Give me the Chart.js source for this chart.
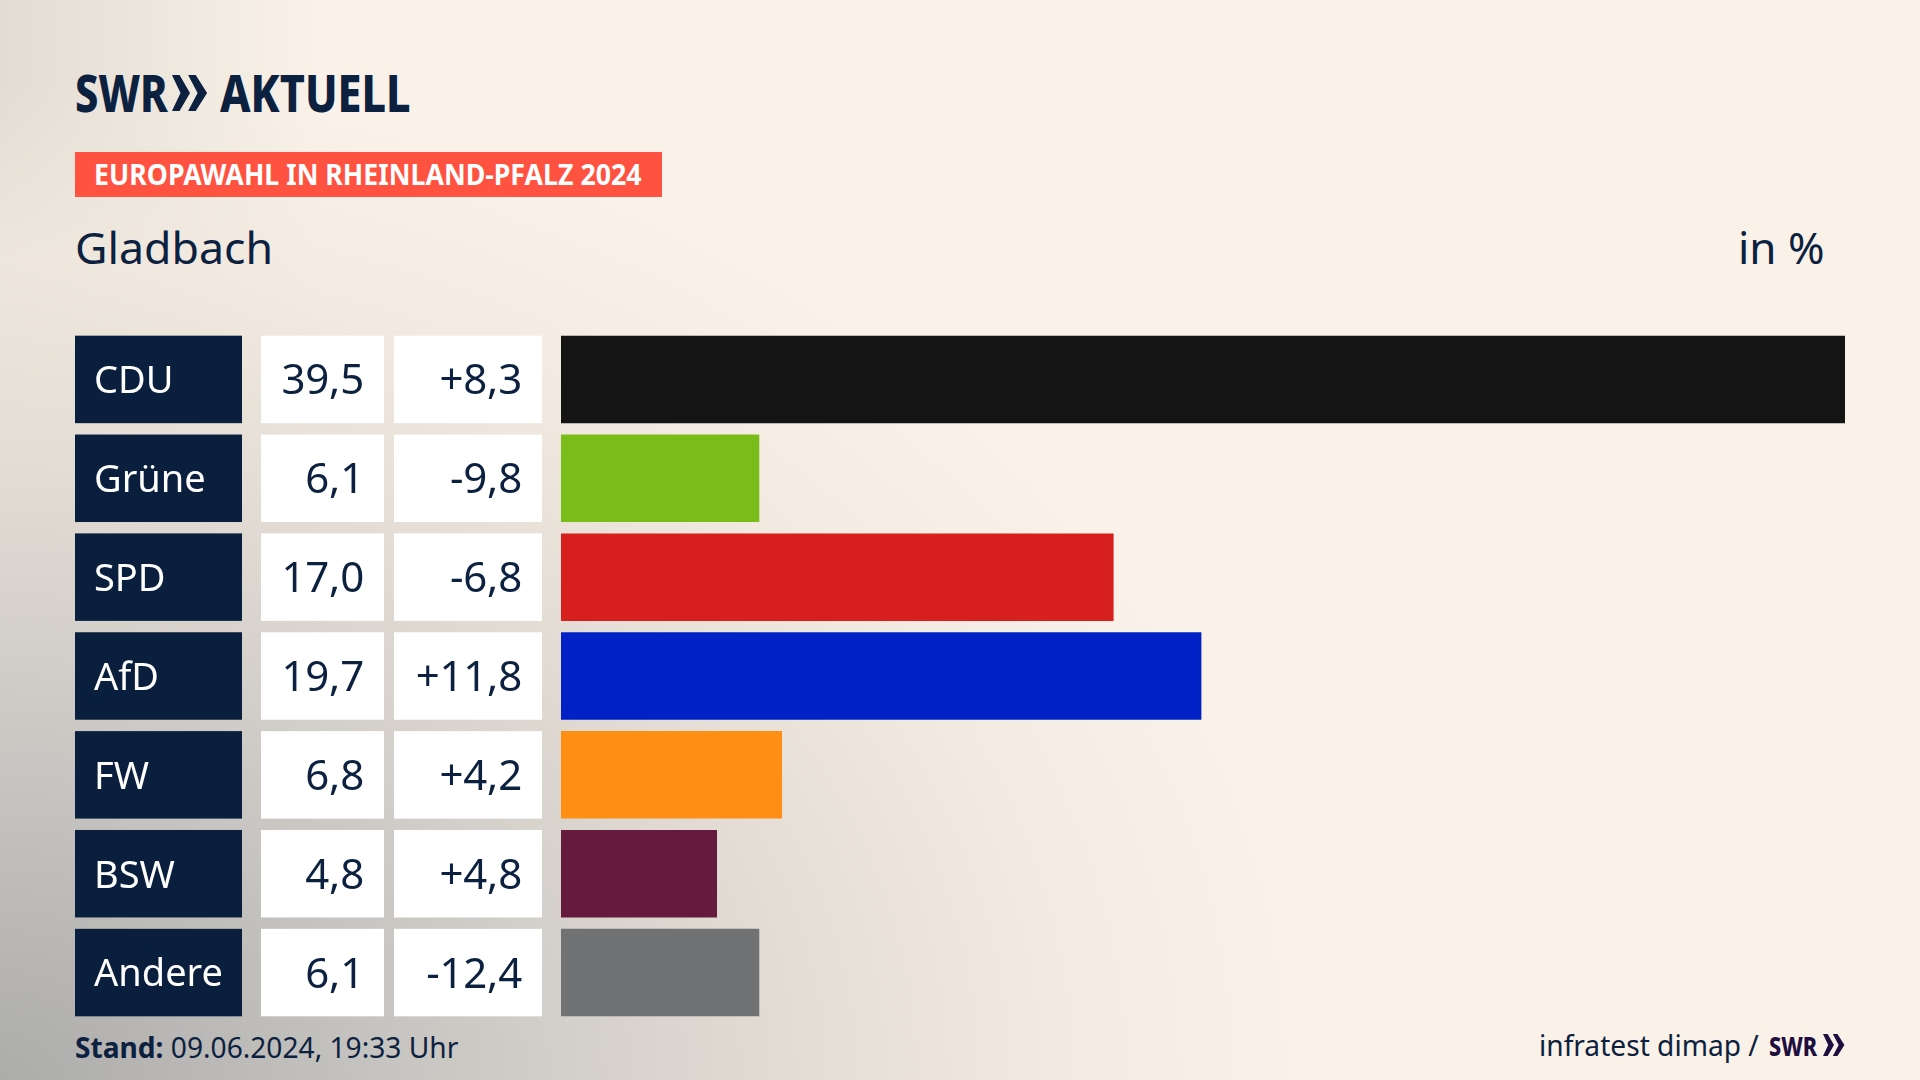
<!DOCTYPE html>
<html lang="de">
<head>
<meta charset="utf-8">
<title>Europawahl Gladbach</title>
<script src="https://cdn.jsdelivr.net/npm/chart.js@4"></script>
<style>
html, body { margin: 0; padding: 0; }
body {
    width: 1920px; height: 1080px; overflow: hidden; position: relative;
    font-family: "Noto Sans", sans-serif; color: #0c2140;
    background-color: #faf2e8;
    background-image:
        radial-gradient(ellipse 1300px 1000px at 0 100%, rgba(172,172,171,1) 0%, rgba(204,201,197,1) 36%, rgba(228,221,213,1) 62%, rgba(241,233,223,0.8) 82%, rgba(250,242,232,0) 100%),
        linear-gradient(90deg, rgba(225,220,212,1) 0, rgba(250,242,232,0) 320px);
}
#graph { position: absolute; left: 0; top: 0; }
.txt { position: absolute; white-space: nowrap; transform-origin: 0 0; line-height: 1; }
#badge { position: absolute; left: 75px; top: 152px; width: 587px; height: 45px; background: #ff5240; }
</style>
</head>
<body>
<div class="txt" style="left:75px;top:66px;font-size:52px;font-weight:800;transform:scaleX(0.8);">SWR</div>
<svg style="position:absolute;left:171px;top:74px" width="38" height="38" viewBox="0 0 40 38">
    <path fill="#0c2140" d="M1 0 L9 0 L20 19 L9 38 L1 38 L10 19 Z M18 0 L26 0 L38 19 L26 38 L18 38 L28 19 Z"/>
</svg>
<div class="txt" style="left:220px;top:66px;font-size:52px;font-weight:800;transform:scaleX(0.83);">AKTUELL</div>
<div id="badge"></div>
<div class="txt" style="left:94px;top:160px;font-size:28px;font-weight:700;color:#fff;transform:scaleX(0.955);">EUROPAWAHL IN RHEINLAND-PFALZ 2024</div>
<div class="txt" style="left:75px;top:225px;font-size:44px;transform:scaleX(1.015);">Gladbach</div>
<div class="txt" style="left:1738px;top:225px;font-size:44px;">in %</div>
<div class="txt" style="left:75px;top:1032px;font-size:29px;transform:scaleX(0.97);"><b>Stand:</b> 09.06.2024, 19:33 Uhr</div>
<div class="txt" style="left:1539px;top:1030px;font-size:29px;transform:scaleX(0.97);">infratest dimap /</div>
<div class="txt" style="left:1769px;top:1032px;font-size:27px;font-weight:800;color:#1e0f40;transform:scaleX(0.8);">SWR</div>
<svg style="position:absolute;left:1822px;top:1034px" width="24" height="22" viewBox="0 0 40 38">
    <path fill="#1e0f40" d="M1 0 L9 0 L20 19 L9 38 L1 38 L10 19 Z M18 0 L26 0 L38 19 L26 38 L18 38 L28 19 Z"/>
</svg>
<canvas id="graph" width="1920" height="1080"></canvas>
<script>
var parties = ["CDU", "Grüne", "SPD", "AfD", "FW", "BSW", "Andere"];
var shares = [39.5, 6.1, 17.0, 19.7, 6.8, 4.8, 6.1];
var changes = [8.3, -9.8, -6.8, 11.8, 4.2, 4.8, -12.4];
var barColors = ["#141414", "#7abc1a", "#d71f1d", "#0021c6", "#ff8e15", "#661a3e", "#717274"];

var NAVY = "#0a1f3d";
var FONT = '"Noto Sans", sans-serif';

function fmtShare(v) {
    return v.toFixed(1).replace(".", ",");
}

function fmtChange(v) {
    return (v > 0 ? "+" : "") + v.toFixed(1).replace(".", ",");
}

// boxes behind the party names plus the two number columns
var tablePlugin = {
    id: "table",
    beforeDraw: function(chart) {
        var ctx = chart.ctx;
        var y = chart.scales.y;
        var h = chart.getDatasetMeta(0).data[0].height;
        ctx.save();
        parties.forEach(function(p, i) {
            var top = y.getPixelForValue(i) - h / 2;
            ctx.fillStyle = NAVY;
            ctx.fillRect(75, top, 167, h);
            ctx.fillStyle = "#fff";
            ctx.fillRect(261, top, 123, h);
            ctx.fillRect(394, top, 148, h);
        });
        ctx.restore();
    },
    afterDraw: function(chart) {
        var ctx = chart.ctx;
        var y = chart.scales.y;
        ctx.save();
        ctx.font = "42px " + FONT;
        ctx.letterSpacing = "-0.2px";
        ctx.fillStyle = "#0c2140";
        ctx.textAlign = "right";
        ctx.textBaseline = "middle";
        parties.forEach(function(p, i) {
            var mid = y.getPixelForValue(i) + 3;
            ctx.fillText(fmtShare(shares[i]), 364, mid);
            ctx.fillText(fmtChange(changes[i]), 522, mid);
        });
        ctx.restore();
    }
};

new Chart(document.getElementById("graph").getContext("2d"), {
    type: "bar",
    data: {
        labels: parties,
        datasets: [{
            data: shares,
            backgroundColor: barColors,
            barPercentage: 0.885,
            categoryPercentage: 1
        }]
    },
    options: {
        indexAxis: "y",
        responsive: false,
        animation: false,
        layout: { padding: { left: 94, right: 75, top: 330, bottom: 58 } },
        plugins: { legend: { display: false }, tooltip: { enabled: false } },
        scales: {
            x: {
                min: 0,
                max: 39.5,
                display: false
            },
            y: {
                grid: { display: false },
                border: { display: false },
                afterFit: function(scale) { scale.width = 467; },
                ticks: {
                    color: "#fff",
                    crossAlign: "far",
                    padding: 0,
                    labelOffset: 3,
                    font: { family: FONT, size: 38 }
                }
            }
        }
    },
    plugins: [tablePlugin]
});
</script>
</body>
</html>
